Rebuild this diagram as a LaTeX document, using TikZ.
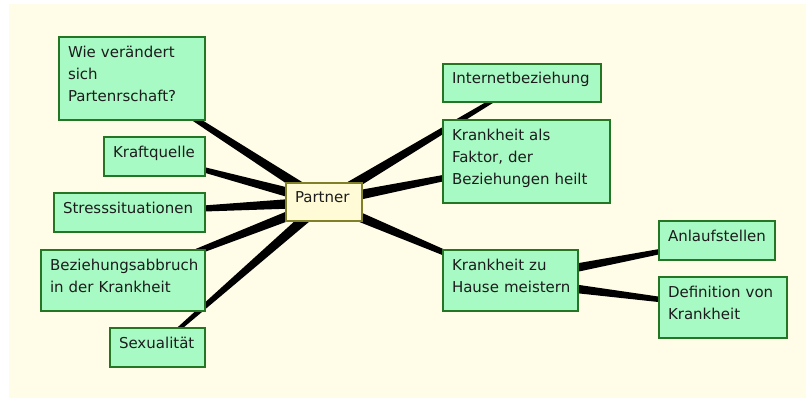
\documentclass[tikz,border=0pt]{standalone}
\usepackage{fontspec}
\setmainfont{DejaVu Sans}
\usetikzlibrary{calc}

\definecolor{paper}{RGB}{255,252,232}
\definecolor{leaf}{RGB}{168,250,196}
\definecolor{leafline}{RGB}{36,118,36}
\definecolor{rootfill}{RGB}{255,251,214}
\definecolor{rootline}{RGB}{128,128,40}
\definecolor{ink}{RGB}{28,28,28}

\pgfdeclarelayer{paperlayer}
\pgfdeclarelayer{linklayer}
\pgfsetlayers{paperlayer,linklayer,main}

% one text line with a fixed height and depth, never broken
\newcommand\bline[1]{\mbox{\rule[-10.2pt]{0pt}{22.2pt}#1}}

% tapered link: broad at the first node, narrow at the second
\newcommand\taper[2]{%
  \fill[linkfill]
    ($(#1.center)!5.5pt!90:(#2.center)$) --
    ($(#2.center)!1.5pt!-90:(#1.center)$) --
    ($(#2.center)!1.5pt!90:(#1.center)$) --
    ($(#1.center)!5.5pt!-90:(#2.center)$) -- cycle;}

\begin{document}
\begin{tikzpicture}[x=1pt,y=-1pt,
  linkfill/.style={fill=black},
  mapbox/.style={rectangle, line width=1.4pt, inner xsep=9pt, inner ysep=0pt,
    text=ink, font=\fontsize{15}{22.2}\selectfont, align=left,
    execute at begin node={\hyphenpenalty=10000\exhyphenpenalty=10000}},
  leafbox/.style={mapbox, draw=leafline, fill=leaf},
  rootbox/.style={mapbox, draw=rootline, fill=rootfill}]

\useasboundingbox (0,0) rectangle (806,398);
\begin{pgfonlayer}{paperlayer}
  \fill[paper] (9,4) rectangle (806,398);
\end{pgfonlayer}

% central topic
\node[rootbox, minimum width=76pt, minimum height=38pt, text width=58pt]
  (partner) at (324,202) {\bline{Partner}};

% left branches
\node[leafbox, minimum width=146pt, minimum height=83pt, text width=128pt]
  (wie) at (132,78.5) {\bline{Wie verändert}\\\bline{sich}\\\bline{Partenrschaft?}};
\node[leafbox, minimum width=101pt, minimum height=39pt, text width=83pt]
  (kraft) at (154.5,156.5) {\bline{Kraftquelle}};
\node[leafbox, minimum width=151pt, minimum height=39pt, text width=133pt]
  (stress) at (129.5,212.5) {\bline{Stresssituationen}};
\node[leafbox, minimum width=164pt, minimum height=61pt, text width=146pt]
  (abbruch) at (123,280.5) {\bline{Beziehungsabbruch}\\\bline{in der Krankheit}};
\node[leafbox, minimum width=95pt, minimum height=39pt, text width=77pt]
  (sex) at (157.5,347.5) {\bline{Sexualität}};

% right branches
\node[leafbox, minimum width=158pt, minimum height=38pt, text width=140pt]
  (inet) at (522,83) {\bline{Internetbeziehung}};
\node[leafbox, minimum width=167pt, minimum height=83pt, text width=149pt]
  (faktor) at (526.5,161.5) {\bline{Krankheit als}\\\bline{Faktor, der}\\\bline{Beziehungen heilt}};
\node[leafbox, minimum width=135pt, minimum height=61pt, text width=117pt]
  (hause) at (510.5,280.5) {\bline{Krankheit zu}\\\bline{Hause meistern}};
\node[leafbox, minimum width=116pt, minimum height=39pt, text width=98pt]
  (anlauf) at (717,240.5) {\bline{Anlaufstellen}};
\node[leafbox, minimum width=128pt, minimum height=61pt, text width=110pt]
  (defn) at (723,307.5) {\bline{Definition von}\\\bline{Krankheit}};

\begin{pgfonlayer}{linklayer}
  \taper{partner}{wie}
  \taper{partner}{kraft}
  \taper{partner}{stress}
  \taper{partner}{abbruch}
  \taper{partner}{sex}
  \taper{partner}{inet}
  \taper{partner}{faktor}
  \taper{partner}{hause}
  \taper{hause}{anlauf}
  \taper{hause}{defn}
\end{pgfonlayer}
\end{tikzpicture}
\end{document}
